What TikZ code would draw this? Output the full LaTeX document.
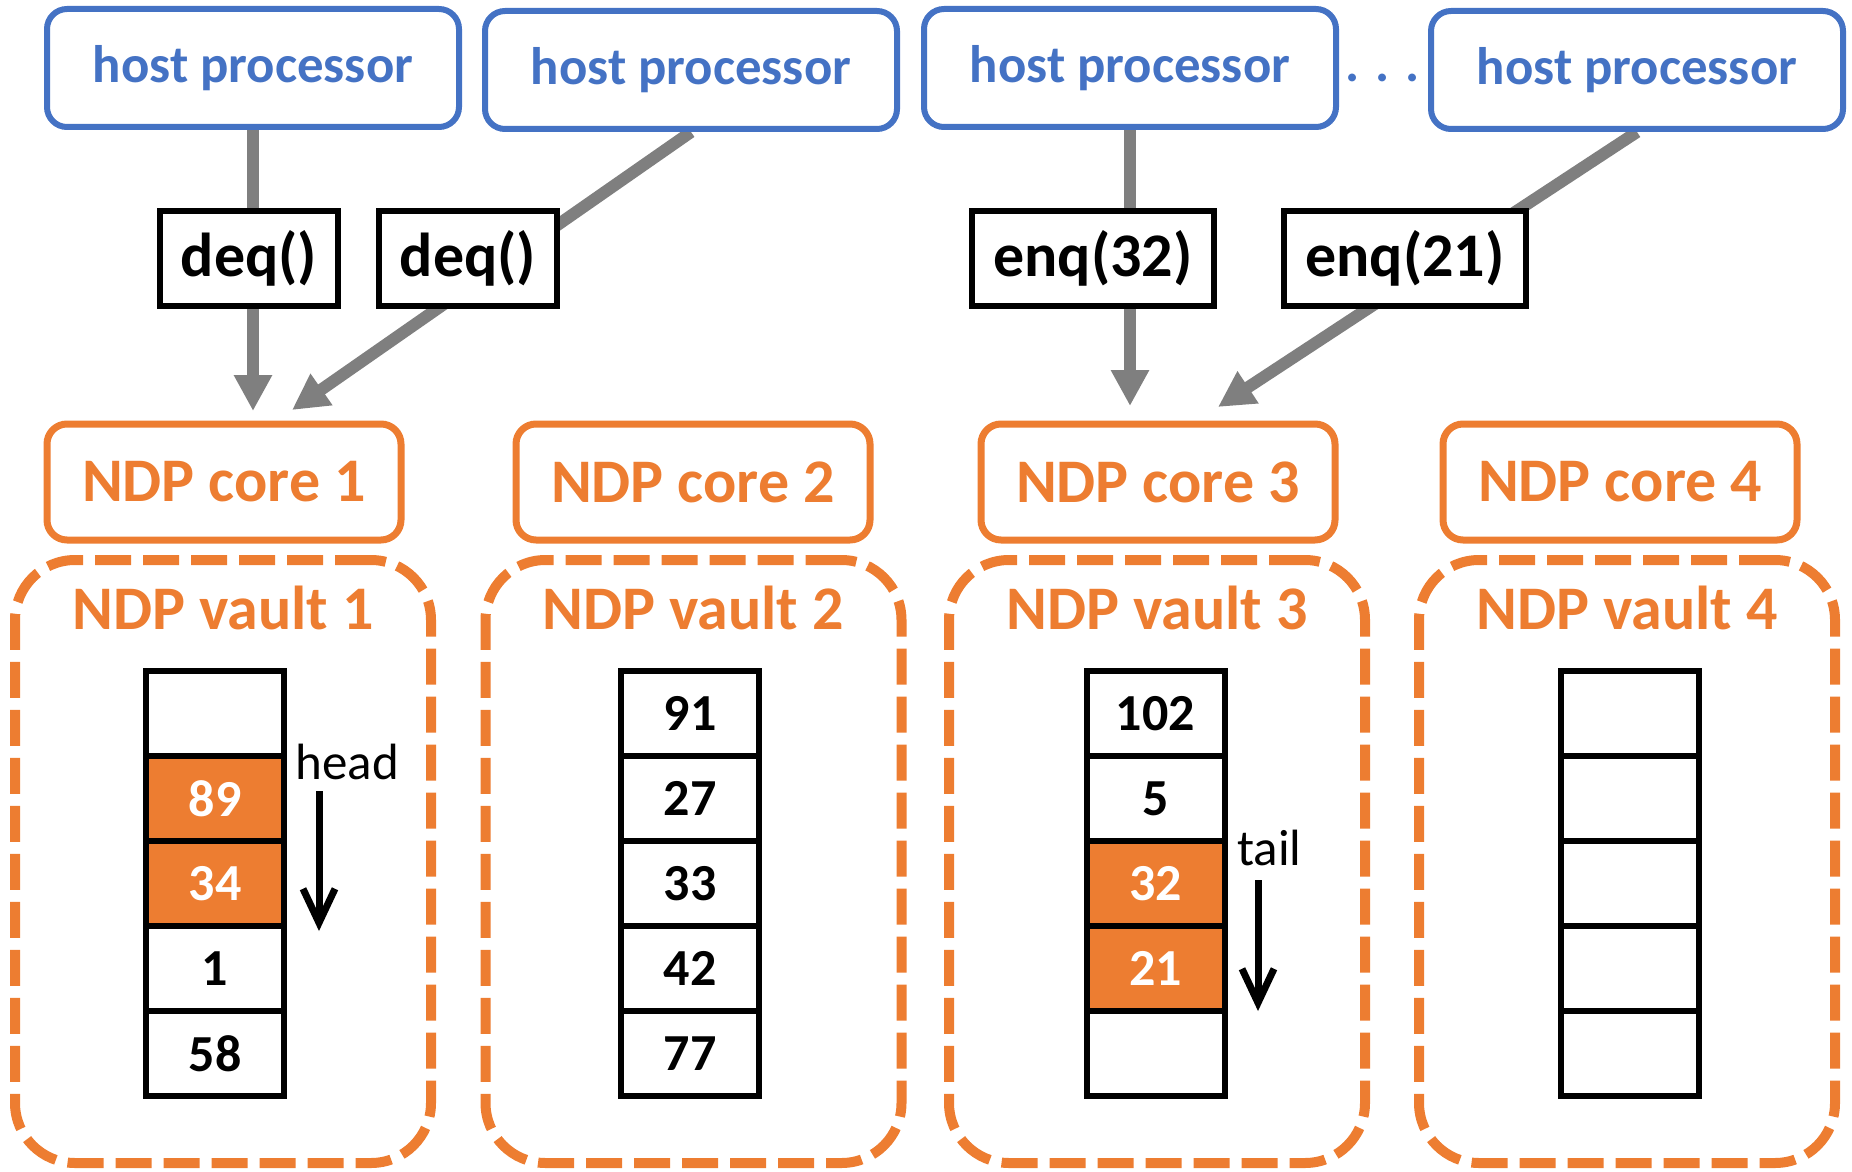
\documentclass[tikz,border=0pt]{standalone}
\usepackage{fontspec}
\setmainfont{Carlito}
\usetikzlibrary{arrows.meta,backgrounds}
\definecolor{hostblue}{HTML}{4472C4}
\definecolor{ndporange}{HTML}{ED7D31}
\definecolor{flowgray}{HTML}{7F7F7F}

\tikzset{
  host/.style={draw=hostblue, fill=white, line width=3pt, rounded corners=10pt,
    minimum width=206pt, minimum height=59pt, text=hostblue,
    font=\fontsize{26.4}{30}\selectfont\bfseries},
  call/.style={draw=black, fill=white, line width=3pt, inner xsep=10.5pt,
    minimum height=47.5pt, font=\fontsize{31}{36}\selectfont\bfseries},
  core/.style={draw=ndporange, line width=3.5pt, rounded corners=10pt,
    minimum width=177pt, minimum height=58pt, text=ndporange,
    font=\fontsize{31}{36}\selectfont\bfseries},
  vault/.style={draw=ndporange, line width=5pt, dash pattern=on 18pt off 6pt,
    rounded corners=30pt, minimum width=208pt, minimum height=301.5pt},
  vname/.style={anchor=base, text=ndporange, font=\fontsize{31}{36}\selectfont\bfseries},
  cell/.style={draw=black, line width=3pt, minimum width=69pt, minimum height=42.5pt,
    inner sep=0pt, font=\fontsize{26}{30}\selectfont\bfseries},
  hot/.style={cell, fill=ndporange, text=white},
  cold/.style={cell, fill=white},
  flow/.style={draw=flowgray, line width=6pt, -{Triangle[width=18pt,length=18pt]}},
  ptr/.style={line width=3.5pt, -{Straight Barb[width=16pt,length=17pt]}},
  ptrname/.style={anchor=base west, inner sep=0pt, font=\fontsize{25.5}{30}\selectfont}
}

\begin{document}
\begin{tikzpicture}[x=0.5pt, y=-0.5pt]
  \useasboundingbox (0,0) rectangle (1852,1172);

  % host side
  \node[host] (h1) at (253,68)  {host processor};
  \node[host] (h2) at (691,70)  {host processor};
  \node[host] (h3) at (1130,68) {host processor};
  \node[host] (h4) at (1637,70) {host processor};
  \node[anchor=base, text=hostblue, font=\fontsize{26.4}{30}\selectfont\bfseries]
    (dots) at (1383,82) {. . .};

  \node[call] (d1) at (249,258.5)  {deq()};
  \node[call] (d2) at (468,258.5)  {deq()};
  \node[call] (e1) at (1093,258.5) {enq(32)};
  \node[call] (e2) at (1405,258.5) {enq(21)};

  % NDP side
  \node[core] (c1) at (224,482)  {NDP core 1};
  \node[core] (c2) at (693,482)  {NDP core 2};
  \node[core] (c3) at (1158,482) {NDP core 3};
  \node[core] (c4) at (1620,482) {NDP core 4};

  \coordinate (t1) at (253,411);
  \coordinate (t2) at (292,410);
  \coordinate (t3) at (1130,406);
  \coordinate (t4) at (1218,407);
  \begin{scope}[on background layer]
    \draw[flow] (h1.south) -- (t1);
    \draw[flow] (h2.south) -- (t2);
    \draw[flow] (h3.south) -- (t3);
    \draw[flow] (h4.south) -- (t4);
  \end{scope}

  \node[vault] (v1) at (223,861.5)  {};
  \node[vault] (v2) at (693.5,861.5) {};
  \node[vault] (v3) at (1157,861.5) {};
  \node[vault] (v4) at (1627,861.5) {};
  \node[vname] (n1) at (223,629)  {NDP vault 1};
  \node[vname] (n2) at (693,629)  {NDP vault 2};
  \node[vname] (n3) at (1157,629) {NDP vault 3};
  \node[vname] (n4) at (1627,629) {NDP vault 4};

  % queue slots
  \foreach \v/\s [count=\i] in {{}/cold,89/hot,34/hot,1/cold,58/cold}
    \node[\s] (qa\i) at (215,{713.5+85*(\i-1)}) {\v};
  \foreach \v [count=\i] in {91,27,33,42,77}
    \node[cold] (qb\i) at (690,{713.5+85*(\i-1)}) {\v};
  \foreach \v/\s [count=\i] in {102/cold,5/cold,32/hot,21/hot,{}/cold}
    \node[\s] (qc\i) at (1155.5,{713.5+85*(\i-1)}) {\v};
  \foreach \i in {1,...,5}
    \node[cold] (qd\i) at (1629.5,{713.5+85*(\i-1)}) {};

  \node[ptrname] (head) at (295,779) {head};
  \coordinate (hs) at (319,791);
  \coordinate (he) at (319,931);
  \draw[ptr] (hs) -- (he);

  \node[ptrname] (tail) at (1237,865) {tail};
  \coordinate (ts) at (1258,880);
  \coordinate (te) at (1258,1011);
  \draw[ptr] (ts) -- (te);
\end{tikzpicture}
\end{document}
